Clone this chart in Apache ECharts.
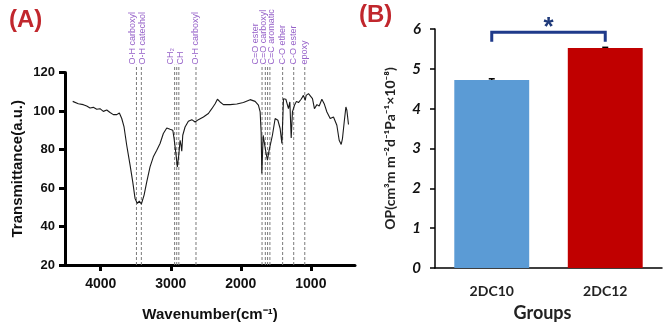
<!DOCTYPE html>
<html><head><meta charset="utf-8">
<script src="https://cdn.jsdelivr.net/npm/echarts@6/dist/echarts.min.js"></script>
<style>html,body{margin:0;padding:0;background:#fff}#c{width:666px;height:327px}</style>
</head><body><div id="c"></div>
<script>
// Panel A: FTIR spectrum
const wavenumbers = [4400,4320,4249,4200,4153,4106,4057,4010,3963,3914,3867,3820,3771,3734,3700,3667,3629,3581,3543,3510,3477,3449,3420,3381,3343,3296,3249,3200,3153,3106,3057,3010,2971,2953,2924,2906,2886,2867,2853,2843,2829,2796,2749,2700,2653,2606,2534,2463,2414,2367,2334,2296,2249,2153,2057,1963,1867,1796,1749,1724,1710,1700,1681,1663,1643,1620,1596,1571,1549,1510,1471,1439,1414,1400,1391,1357,1329,1320,1300,1281,1263,1234,1206,1177,1139,1106,1081,1067,1034,1010,977,949,914,881,843,810,771,724,677,629,596,567,549,524,500,486,463];
const transmittance = [105.0,103.8,103.3,102.6,101.6,101.9,100.9,101.2,99.8,100.5,99.2,98.1,98.1,99.0,96.1,91.7,82.2,71.9,63.2,54.6,52.0,53.2,51.7,56.3,63.2,71.0,76.2,79.6,83.1,88.3,91.2,90.5,90.0,85.7,77.0,71.0,77.0,84.8,82.2,79.1,87.4,91.7,94.7,95.5,94.3,95.5,96.9,98.7,101.2,103.8,106.1,104.7,103.3,103.3,103.6,104.4,105.9,105.0,103.0,99.5,89.1,67.6,87.4,87.4,78.8,74.5,79.6,78.8,87.4,96.1,95.2,90.9,83.1,96.9,106.4,106.1,105.5,101.2,104.7,86.0,99.5,103.0,105.0,104.4,106.1,108.1,105.5,108.1,109.0,109.8,106.4,101.2,103.3,102.6,106.1,103.8,99.5,96.1,96.9,92.6,84.8,82.6,85.7,94.3,102.1,100.4,93.0];
const xTicksA = [1000, 2000, 3000, 4000];
const peakLines = [3490, 3420, 2945, 2915, 2885, 2640, 1697, 1650, 1618, 1585, 1403, 1245, 1087];
const peakLabelNames = ['O-H carboxyl', 'O-H catechol', 'CH\u2082', 'CH', 'O-H carboxyl', 'C=O ester', 'C=O carboxyl', 'C=C aromatic', 'C-O ether', 'C-O ester', 'epoxy'];
const peakLabelAt = [3549, 3400, 3000, 2867, 2653, 1796, 1677, 1557, 1400, 1249, 1096];

// Panel B: OP bars
const groups = ['2DC10', '2DC12'];
const opValues = [4.72, 5.52];
const opErrors = [0.03, 0.02];
const barColors = ['#5B9BD5', '#C00000'];
const sigPair = [0, 1];
const sigLabel = '*';

const chart = echarts.init(document.getElementById('c'), null, {renderer: 'canvas'});
const fA = 'Liberation Sans, Arial, sans-serif';
const fB = 'Lato, Open Sans, sans-serif';

const option = {
  animation: false,
  grid: [
    {left: 65, top: 72.5, width: 290, height: 192.5},
    {left: 435, top: 29, width: 227, height: 240}
  ],
  xAxis: [
    {
      gridIndex: 0, type: 'value', inverse: true, min: 370, max: 4510,
      name: 'Wavenumber(cm\u207B\u00B9)', nameLocation: 'middle', nameGap: 42,
      nameTextStyle: {fontFamily: fA, fontWeight: 'bold', fontSize: 15, color: '#111'},
      axisLine: {show: true, lineStyle: {color: '#000', width: 3}},
      axisTick: {show: true, length: 6, lineStyle: {width: 3, color: '#000'}, customValues: xTicksA},
      axisLabel: {customValues: xTicksA, formatter: v => String(v), fontFamily: fA, fontWeight: 'bold', fontSize: 14, color: '#111', margin: 12},
      splitLine: {show: false}
    },
    {
      gridIndex: 1, type: 'category', data: groups,
      name: 'Groups', nameLocation: 'middle', nameGap: 36,
      nameTextStyle: {fontFamily: fB, fontWeight: 'bold', fontSize: 18, color: '#222', padding: [0, 12, 0, 0]},
      axisLine: {show: true, lineStyle: {color: '#000', width: 1.5}},
      axisTick: {show: false},
      axisLabel: {fontFamily: fB, fontWeight: 'bold', fontSize: 14, color: '#222', margin: 16}
    }
  ],
  yAxis: [
    {
      gridIndex: 0, type: 'value', min: 20, max: 120, interval: 20,
      name: 'Transmittance(a.u.)', nameLocation: 'middle', nameGap: 40,
      nameTextStyle: {fontFamily: fA, fontWeight: 'bold', fontSize: 15, color: '#111'},
      axisLine: {show: true, lineStyle: {color: '#000', width: 3}},
      axisTick: {show: true, length: 6, lineStyle: {width: 3, color: '#000'}},
      axisLabel: {fontFamily: fA, fontWeight: 'bold', fontSize: 13, color: '#111', margin: 10},
      splitLine: {show: false}
    },
    {
      gridIndex: 1, type: 'value', min: 0, max: 6, interval: 1,
      name: 'OP(cm\u00B3m m\u207B\u00B2d\u207B\u00B9Pa\u207B\u00B9\u00D710\u207B\u2078)', nameLocation: 'middle', nameGap: 38,
      nameTextStyle: {fontFamily: fB, fontWeight: 'bold', fontSize: 14, color: '#222'},
      axisLine: {show: true, lineStyle: {color: '#000', width: 1.5}},
      axisTick: {show: true, length: 5, lineStyle: {width: 1.5, color: '#000'}},
      axisLabel: {fontFamily: fB, fontWeight: 'bold', fontStyle: 'italic', fontSize: 15, color: '#111', margin: 14},
      splitLine: {show: false}
    }
  ],
  series: [
    {
      type: 'custom', xAxisIndex: 0, yAxisIndex: 0, clip: false, silent: true,
      data: peakLines.map(w => [w]),
      renderItem: function (params, api) {
        const w = api.value(0);
        const p0 = api.coord([w, 20]);
        const p1 = api.coord([w, 124]);
        return {type: 'line', shape: {x1: p0[0], y1: p0[1], x2: p1[0], y2: p1[1]},
          style: {stroke: '#7a7a7a', lineWidth: 1, lineDash: [3, 2]}};
      }
    },
    {
      type: 'line', xAxisIndex: 0, yAxisIndex: 0, showSymbol: false, silent: true,
      data: wavenumbers.map((w, i) => [w, transmittance[i]]),
      lineStyle: {color: '#1a1a1a', width: 1.1}
    },
    {
      type: 'custom', xAxisIndex: 0, yAxisIndex: 0, clip: false, silent: true,
      data: peakLabelAt.map((w, i) => [w, i]),
      renderItem: function (params, api) {
        const w = api.value(0);
        const p = api.coord([w, 124.2]);
        return {type: 'text', x: p[0], y: p[1], rotation: Math.PI / 2,
          style: {text: peakLabelNames[params.dataIndex], fontFamily: fA, fontSize: 9, fill: '#9560c8', align: 'left', verticalAlign: 'middle'}};
      }
    },
    {
      type: 'bar', xAxisIndex: 1, yAxisIndex: 1, barWidth: '66%', silent: true,
      data: opValues.map((v, i) => ({value: v, itemStyle: {color: barColors[i]}}))
    },
    {
      type: 'custom', xAxisIndex: 1, yAxisIndex: 1, silent: true, clip: false,
      data: opValues.map((v, i) => [i, v, opErrors[i]]),
      renderItem: function (params, api) {
        const i = api.value(0), v = api.value(1), e = api.value(2);
        const hi = api.coord([i, v + e]), lo = api.coord([i, v - e]);
        const s = {stroke: '#000', lineWidth: 1.5};
        return {type: 'group', children: [
          {type: 'line', shape: {x1: hi[0], y1: hi[1], x2: lo[0], y2: lo[1]}, style: s},
          {type: 'line', shape: {x1: hi[0] - 3, y1: hi[1], x2: hi[0] + 3, y2: hi[1]}, style: s}
        ]};
      }
    },
    {
      type: 'custom', xAxisIndex: 1, yAxisIndex: 1, silent: true, clip: false,
      data: [[sigPair[0], sigPair[1], Math.max(...opValues)]],
      renderItem: function (params, api) {
        const a = api.value(0), b = api.value(1), top = api.value(2);
        const yTop = top + 0.4, yTip = top + 0.16;
        const pa = api.coord([a, yTop]), pb = api.coord([b, yTop]);
        const ta = api.coord([a, yTip]), tb = api.coord([b, yTip]);
        const st = {stroke: '#1F3A8A', lineWidth: 3, fill: null};
        return {type: 'group', children: [
          {type: 'polyline', shape: {points: [ta, pa, pb, tb]}, style: st},
          {type: 'text', x: (pa[0] + pb[0]) / 2, y: pa[1] + 9,
            style: {text: sigLabel, fontFamily: fA, fontWeight: 'bold', fontSize: 26, fill: '#1F3A7A', align: 'center', verticalAlign: 'bottom'}}
        ]};
      }
    }
  ],
  graphic: [
    {type: 'text', left: 9, top: 8, style: {text: '(A)', fontFamily: fA, fontWeight: 'bold', fontSize: 24, fill: '#C1272D'}},
    {type: 'text', left: 359, top: 3, style: {text: '(B)', fontFamily: fA, fontWeight: 'bold', fontSize: 24, fill: '#C1272D'}}
  ]
};
chart.setOption(option);
</script></body></html>
